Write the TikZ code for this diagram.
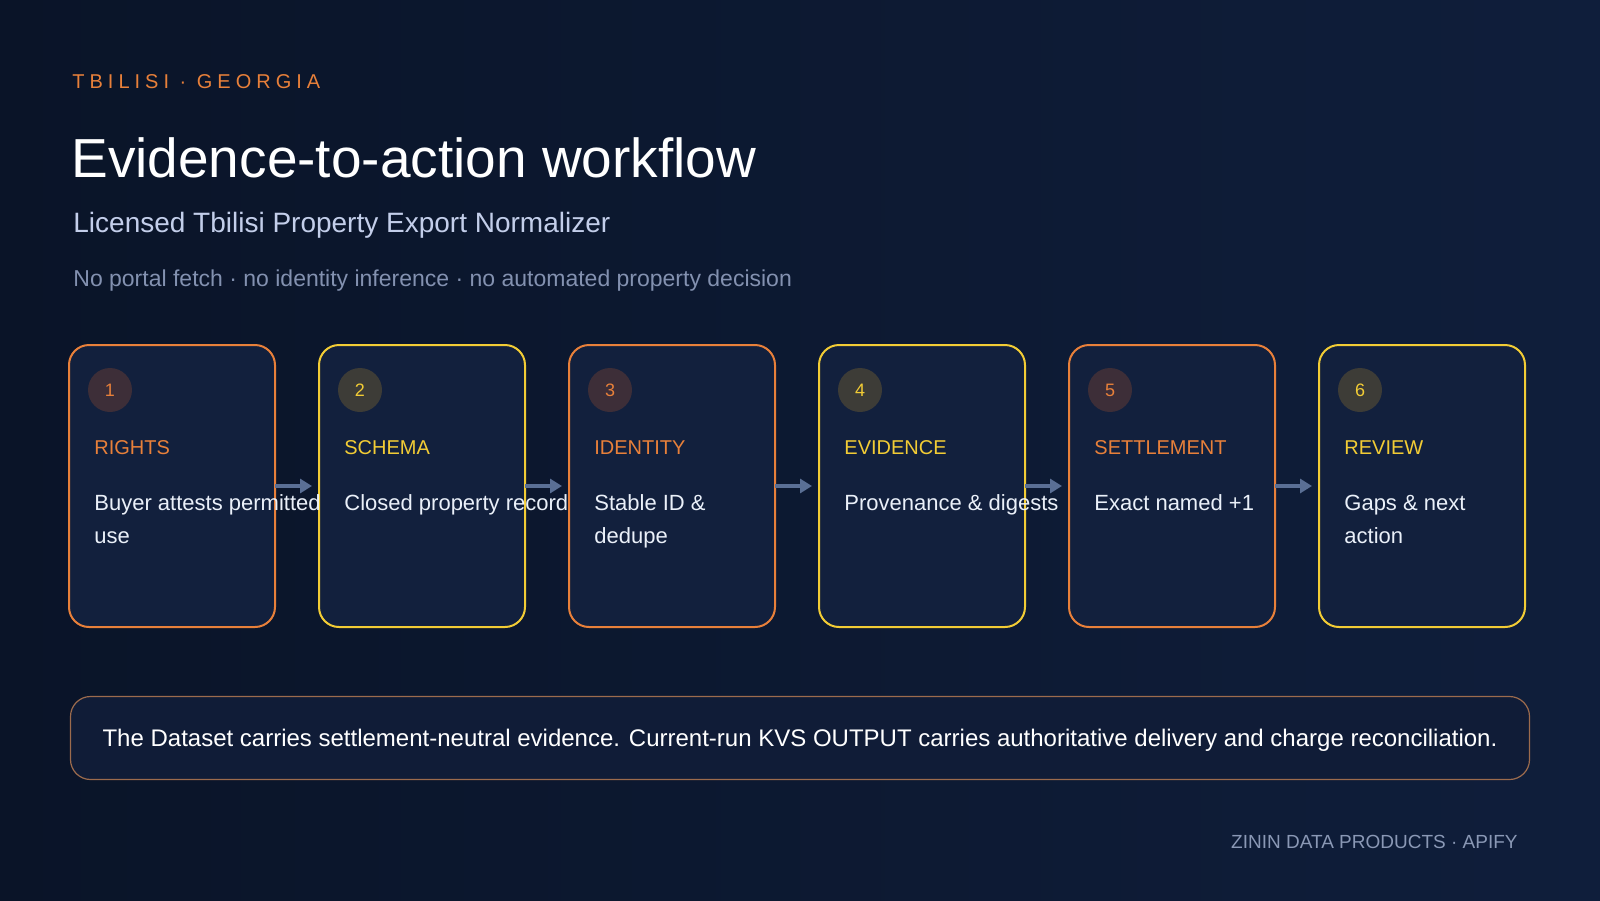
\documentclass[tikz,border=0pt]{standalone}
\usepackage{fontspec}
\setmainfont{Liberation Sans}
\newfontfamily\spacedfont[LetterSpace=25]{Liberation Sans}
\usetikzlibrary{arrows.meta,positioning}
\definecolor{bgdark}{HTML}{0A1428}
\definecolor{bglight}{HTML}{0F1E3B}
\definecolor{cardfill}{HTML}{12203D}
\definecolor{ambr}{HTML}{E8803A}
\definecolor{gold}{HTML}{F2CC35}
\definecolor{ambrdot}{HTML}{3D2E38}
\definecolor{golddot}{HTML}{3D3C37}
\definecolor{flowgray}{HTML}{5A6F95}
\definecolor{subblue}{HTML}{C3CEEA}
\definecolor{notegray}{HTML}{8391B0}
\definecolor{bodywhite}{HTML}{EAF0F9}
\definecolor{bandedge}{HTML}{9C6B4D}
\definecolor{bandfill}{HTML}{101C37}
\definecolor{footgray}{HTML}{8A98B5}
\tikzset{
  card/.style={draw,line width=1pt,fill=cardfill,rounded corners=10pt,
    minimum width=103pt,minimum height=141pt,inner sep=0pt,outer sep=0pt},
  dot/.style={circle,minimum size=22pt,inner sep=0pt,font=\fontsize{9}{9}\selectfont},
  steplabel/.style={anchor=base west,inner sep=0pt,font=\fontsize{10}{10}\selectfont},
  bodytext/.style={anchor=base west,inner sep=0pt,align=left,text=bodywhite,
    font=\fontsize{11}{16.5}\selectfont},
  flowarrow/.style={draw=flowgray,line width=2pt,shorten >=3.5pt,
    -{Triangle[length=6pt,width=7pt]}}
}
\begin{document}
\begin{tikzpicture}[x=0.5pt,y=-0.5pt]
      \useasboundingbox (0,0) rectangle (1600,900);
      \shade[left color=bgdark,right color=bglight] (0,0) rectangle (1600,900); % background

      \node[anchor=base west,inner sep=0pt,text=ambr,font=\fontsize{10}{10}\spacedfont] (city) at (72,88) {TBILISI · GEORGIA}; % kicker
      \node[anchor=base west,inner sep=0pt,text=white,font=\fontsize{27.5}{27.5}\selectfont] (title) at (71,177) {Evidence-to-action workflow}; % title
      \node[anchor=base west,inner sep=0pt,text=subblue,font=\fontsize{14}{14}\selectfont] (subtitle) at (73,232) {Licensed Tbilisi Property Export Normalizer}; % subtitle
      \node[anchor=base west,inner sep=0pt,text=notegray,font=\fontsize{11.5}{11.5}\selectfont] (scope) at (73,286) {No portal fetch · no identity inference · no automated property decision}; % scope note

      \node[card,draw=ambr] (rights) at (172,486) {}; % card 1
      \node[card,draw=gold] (schema) at (422,486) {}; % card 2
      \node[card,draw=ambr] (identity) at (672,486) {}; % card 3
      \node[card,draw=gold] (evidence) at (922,486) {}; % card 4
      \node[card,draw=ambr] (settlement) at (1172,486) {}; % card 5
      \node[card,draw=gold] (review) at (1422,486) {}; % card 6

      \draw[flowarrow] (rights.east) -- (schema.west); % flow
      \draw[flowarrow] (schema.east) -- (identity.west); % flow
      \draw[flowarrow] (identity.east) -- (evidence.west); % flow
      \draw[flowarrow] (evidence.east) -- (settlement.west); % flow
      \draw[flowarrow] (settlement.east) -- (review.west); % flow

      \node[dot,fill=ambrdot,text=ambr] (rightsNo) at (110,390) {1}; % step numbers
      \node[dot,fill=golddot,text=gold] (schemaNo) at (360,390) {2};
      \node[dot,fill=ambrdot,text=ambr] (identityNo) at (610,390) {3};
      \node[dot,fill=golddot,text=gold] (evidenceNo) at (860,390) {4};
      \node[dot,fill=ambrdot,text=ambr] (settlementNo) at (1110,390) {5};
      \node[dot,fill=golddot,text=gold] (reviewNo) at (1360,390) {6};

      \node[steplabel,text=ambr] (rightsHd) at (94,454) {RIGHTS}; % step labels
      \node[steplabel,text=gold] (schemaHd) at (344,454) {SCHEMA};
      \node[steplabel,text=ambr] (identityHd) at (594,454) {IDENTITY};
      \node[steplabel,text=gold] (evidenceHd) at (844,454) {EVIDENCE};
      \node[steplabel,text=ambr] (settlementHd) at (1094,454) {SETTLEMENT};
      \node[steplabel,text=gold] (reviewHd) at (1344,454) {REVIEW};

      \node[bodytext] (rightsTx) at (94,543) {Buyer attests permitted\\use}; % step texts (base = last line)
      \node[bodytext] (schemaTx) at (344,510) {Closed property record};
      \node[bodytext] (identityTx) at (594,543) {Stable ID \&\\dedupe};
      \node[bodytext] (evidenceTx) at (844,510) {Provenance \& digests};
      \node[bodytext] (settlementTx) at (1094,510) {Exact named +1};
      \node[bodytext] (reviewTx) at (1344,543) {Gaps \& next\\action};

      \node[draw=bandedge,line width=0.6pt,fill=bandfill,rounded corners=10pt,minimum width=729.5pt,minimum height=41.5pt,inner sep=0pt,text depth=0pt,text=white,font=\fontsize{12}{12}\selectfont] (band) at (800,738) {The Dataset carries settlement-neutral evidence. Current-run KVS OUTPUT carries authoritative delivery and charge reconciliation.}; % summary band

      \node[anchor=base east,inner sep=0pt,text=footgray,font=\fontsize{9.5}{9.5}\selectfont] (credit) at (1518,848) {ZININ DATA PRODUCTS · APIFY}; % footer
\end{tikzpicture}
\end{document}
